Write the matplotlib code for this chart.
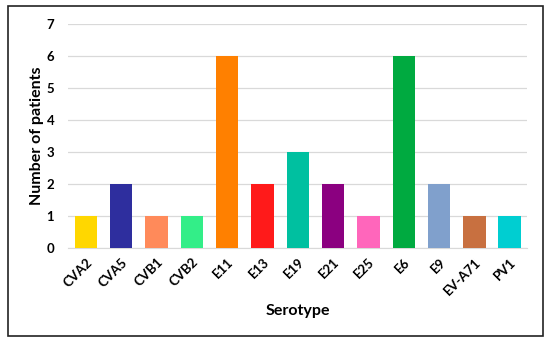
import matplotlib
matplotlib.use('Agg')
from matplotlib import pyplot as plt
from matplotlib.patches import Rectangle

# serotypes and patient counts
serotypes = ['CVA2', 'CVA5', 'CVB1', 'CVB2', 'E11', 'E13', 'E19', 'E21',
             'E25', 'E6', 'E9', 'EV-A71', 'PV1']
patients = [1, 2, 1, 1, 6, 2, 3, 2, 1, 6, 2, 1, 1]
colors = ['#FFD700', '#2E2E9E', '#FF8A5A', '#33EE88', '#FF8000', '#FF1A1A',
          '#00C0A0', '#8B0080', '#FF66BB', '#00AA40', '#80A0CC', '#C87040',
          '#00CED1']

plt.rcParams['font.family'] = ['Lato', 'DejaVu Sans']

fig = plt.figure(figsize=(5.5, 3.43), dpi=100)
ax = fig.add_axes([0.124, 0.278, 0.835, 0.653])

x = range(len(serotypes))
ax.bar(x, patients, width=0.64, color=colors, zorder=3)

ax.set_ylim(0, 7)
ax.set_xlim(-0.5, len(serotypes) - 0.5)
ax.set_yticks(range(0, 8))
ax.set_xticks(list(x))
ax.set_xticklabels(serotypes, rotation=45, ha='right', rotation_mode='anchor',
                   fontsize=9.5, fontweight='bold')
for lbl in ax.get_yticklabels():
    lbl.set_fontweight('bold')
    lbl.set_fontsize(9.5)

ax.grid(axis='y', color='#D9D9D9', linewidth=0.9, zorder=0)
for s in ['top', 'right', 'left']:
    ax.spines[s].set_visible(False)
ax.spines['bottom'].set_color('#D9D9D9')
ax.tick_params(axis='both', length=0)
ax.tick_params(axis='y', pad=10)
ax.tick_params(axis='x', pad=6)

ax.set_ylabel('Number of patients', fontsize=11.5, fontweight='bold', labelpad=2)
ax.set_xlabel('Serotype', fontsize=11.5, fontweight='bold', labelpad=5)

# outer frame
fig.patches.append(Rectangle((0.0145, 0.0204), 0.973, 0.962, transform=fig.transFigure,
                             fill=False, edgecolor='#222222', linewidth=1.2))

fig.savefig('out.png', dpi=100)
